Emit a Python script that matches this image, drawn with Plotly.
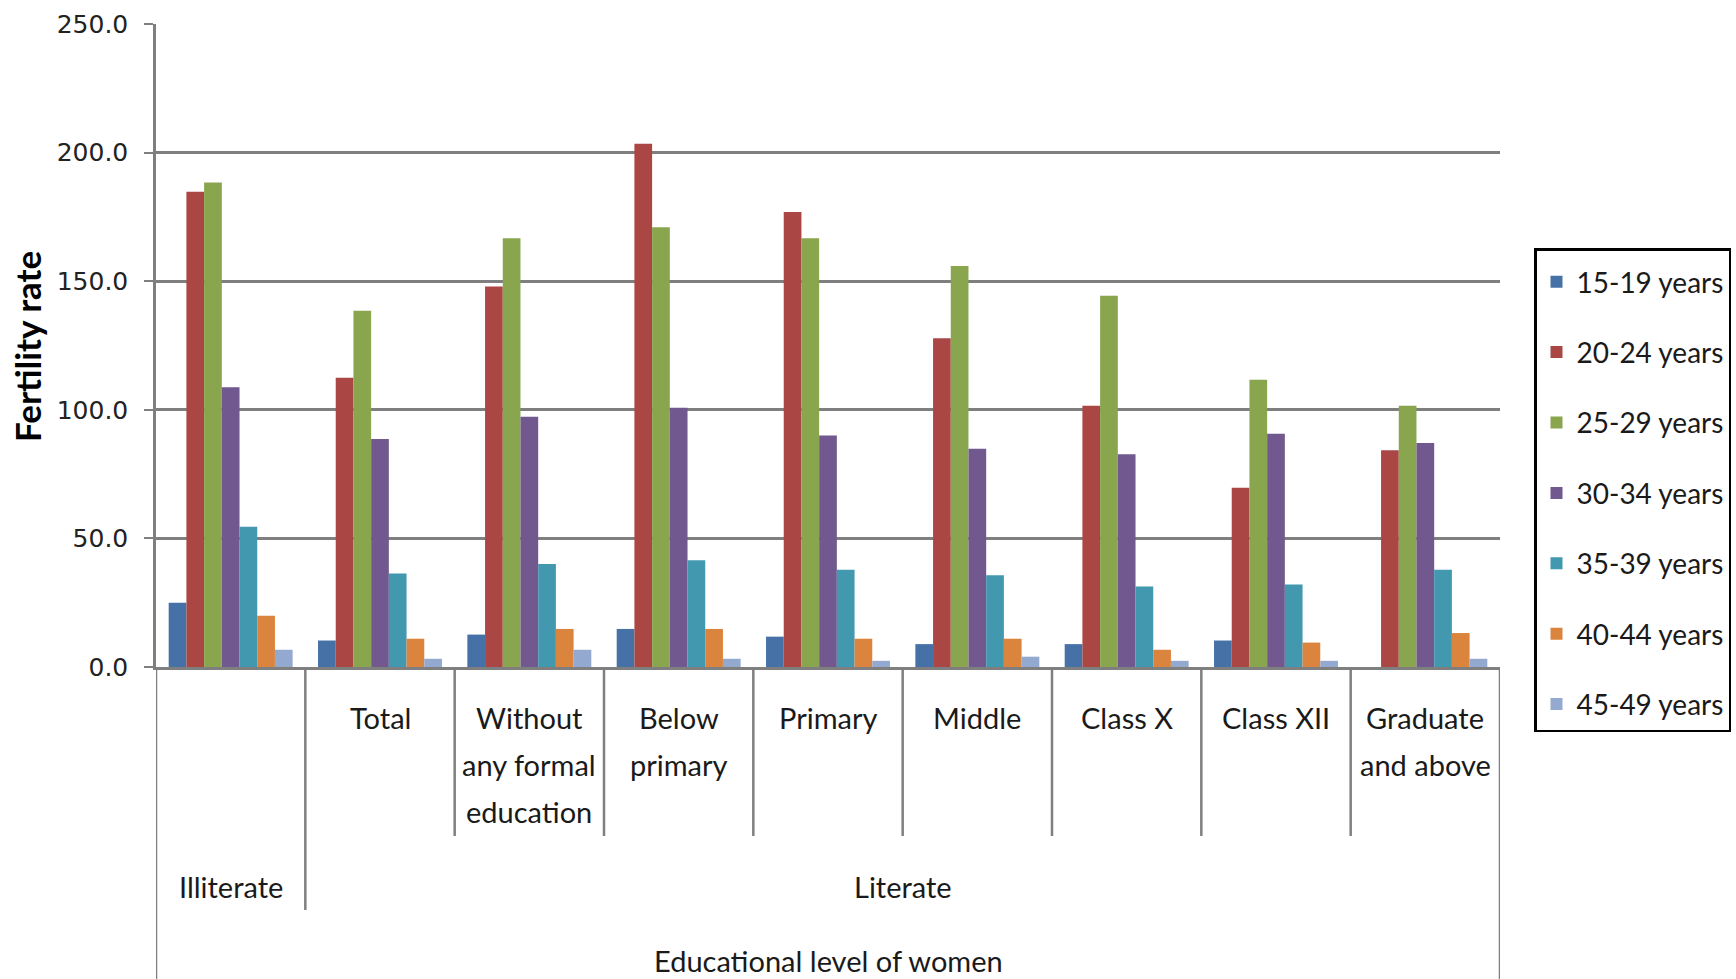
import plotly.graph_objects as go

categories = ["Illiterate", "Total", "Without any formal education", "Below primary",
              "Primary", "Middle", "Class X", "Class XII", "Graduate and above"]
inner_labels = [[], ["Total"], ["Without", "any formal", "education"], ["Below", "primary"],
                ["Primary"], ["Middle"], ["Class X"], ["Class XII"], ["Graduate", "and above"]]
outer_labels = ["Illiterate", "Literate"]
age_groups = ["15-19 years", "20-24 years", "25-29 years", "30-34 years",
              "35-39 years", "40-44 years", "45-49 years"]

v15_19 = [25.0, 10.3, 12.6, 14.8, 11.8, 8.9, 8.9, 10.3, None]
v20_24 = [184.8, 112.5, 147.9, 203.4, 176.9, 127.8, 101.6, 69.7, 84.3]
v25_29 = [188.4, 138.5, 166.7, 171.0, 166.7, 155.9, 144.3, 111.7, 101.6]
v30_34 = [108.8, 88.6, 97.3, 100.8, 90.0, 84.9, 82.7, 90.7, 87.1]
v35_39 = [54.5, 36.4, 40.0, 41.5, 37.8, 35.7, 31.3, 32.1, 37.8]
v40_44 = [19.9, 11.0, 14.8, 14.8, 11.0, 11.0, 6.7, 9.5, 13.2]
v45_49 = [6.7, 3.2, 6.7, 3.2, 2.4, 4.0, 2.4, 2.4, 3.2]
series = [v15_19, v20_24, v25_29, v30_34, v35_39, v40_44, v45_49]

colors = ["#4571A7", "#AA4643", "#89A54E", "#71588F", "#4198AF", "#DB843D", "#93A9CF"]

W, H = 1736, 979
ML, MR, MT, MB = 156, 236, 24, 312
PH = H - MT - MB
PW = W - ML - MR

def py(pix):
    return (H - MB - pix) / PH

def px(pix):
    return (pix - ML) / PW

FONT = "Lato, Liberation Sans, sans-serif"
TXT = "#1a1a1a"
GRAY = "#7f7f7f"
LBL = 29

fig = go.Figure()
for name, vals, col in zip(age_groups, series, colors):
    fig.add_trace(go.Bar(x=categories, y=vals, name=name, legendgroup=name,
                         marker=dict(color=col, line=dict(width=0))))

shapes = []
n = len(categories)
for i in range(n + 1):
    b = i - 0.5
    if i == 0 or i == n:
        y1 = py(H)
    elif i == 1:
        y1 = py(910)
    else:
        y1 = py(836)
    shapes.append(dict(type="line", xref="x", yref="paper", x0=b, x1=b, y0=0, y1=y1,
                       line=dict(color=GRAY, width=2.5), layer="above"))

annotations = []
line_y = [717, 764, 811]
for cat, lines in zip(categories, inner_labels):
    for k, ln in enumerate(lines):
        annotations.append(dict(x=cat, xref="x", y=py(line_y[k]), yref="paper", text=ln,
                                showarrow=False, yanchor="middle", xanchor="center",
                                font=dict(family=FONT, size=LBL, color=TXT)))
annotations.append(dict(x=0, xref="x", y=py(886), yref="paper", text=outer_labels[0],
                        showarrow=False, yanchor="middle",
                        font=dict(family=FONT, size=LBL, color=TXT)))
annotations.append(dict(x=4.5, xref="x", y=py(886), yref="paper", text=outer_labels[1],
                        showarrow=False, yanchor="middle",
                        font=dict(family=FONT, size=LBL, color=TXT)))
annotations.append(dict(x=0.5, xref="paper", y=py(960), yref="paper",
                        text="Educational level of women", showarrow=False, yanchor="middle",
                        font=dict(family=FONT, size=LBL, color=TXT)))
annotations.append(dict(x=px(27), xref="paper", y=py(347), yref="paper",
                        text="<b>Fertility rate</b>", textangle=-90, showarrow=False,
                        xanchor="center", yanchor="middle",
                        font=dict(family=FONT, size=35, color="#000000")))

fig.update_layout(
    width=W, height=H,
    margin=dict(l=ML, r=MR, t=MT, b=MB, pad=0, autoexpand=False),
    paper_bgcolor="white", plot_bgcolor="white",
    barmode="group", bargap=0.17, bargroupgap=0,
    shapes=shapes, annotations=annotations,
    showlegend=True,
    legend=dict(x=px(1534), xanchor="left", y=py(248), yanchor="top",
                bordercolor="#000000", borderwidth=2.5, bgcolor="white",
                font=dict(family=FONT, size=28, color=TXT),
                title=dict(text=" ", font=dict(size=5)),
                tracegroupgap=31, traceorder="grouped"),
    xaxis=dict(type="category", range=[-0.5, n - 0.5], showticklabels=False,
               showline=True, linecolor=GRAY, linewidth=2.5, showgrid=False,
               ticks="", zeroline=False, fixedrange=True),
    yaxis=dict(range=[0, 250], tickvals=[0, 50, 100, 150, 200, 250], tickformat=".1f",
               showline=True, linecolor=GRAY, linewidth=2.5,
               showgrid=True, gridcolor=GRAY, gridwidth=2.5, zeroline=False,
               ticks="outside", ticklen=9, tickwidth=2, tickcolor=GRAY,
               ticklabelstandoff=11,
               tickfont=dict(family="DejaVu Sans", size=25, color="#222222"),
               fixedrange=True),
)

fig.write_html("out.html", config={"displayModeBar": False},
               post_script="document.body.style.margin='0';")
